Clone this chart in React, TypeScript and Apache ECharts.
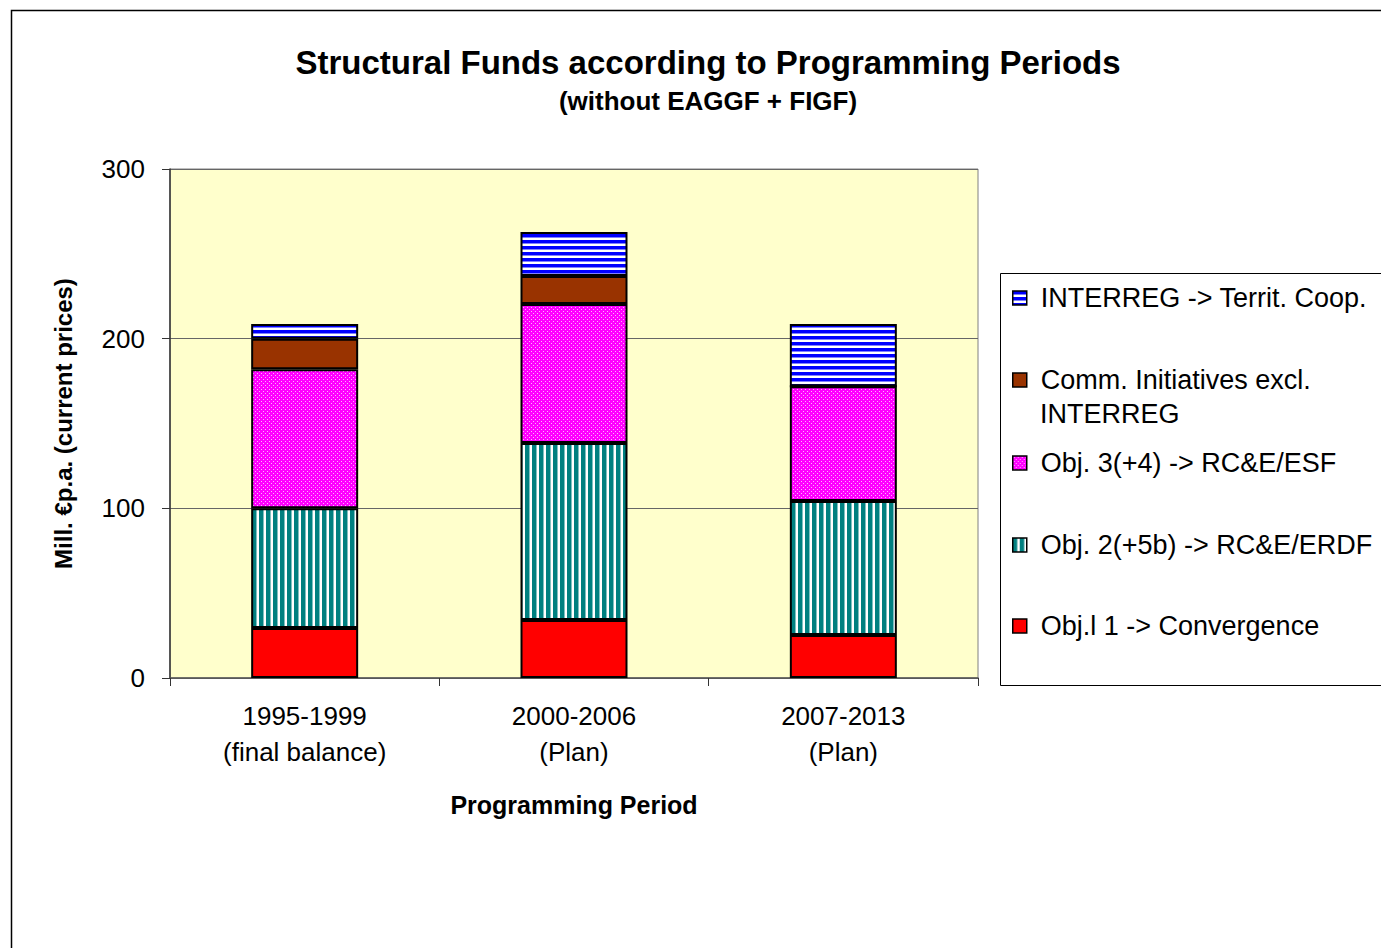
import React, { useEffect, useRef } from 'react';
import * as echarts from 'echarts';

const categories = ['1995-1999\n(final balance)', '2000-2006\n(Plan)', '2007-2013\n(Plan)'];
const seriesNames = [
  'Obj.l 1 -> Convergence',
  'Obj. 2(+5b) -> RC&E/ERDF',
  'Obj. 3(+4) -> RC&E/ESF',
  'Comm. Initiatives excl. INTERREG',
  'INTERREG -> Territ. Coop.',
];
const obj1 = [29.5, 34.2, 25.3];
const obj2 = [70.5, 104.3, 79.0];
const obj3 = [82.0, 81.9, 67.7];
const comm = [18.0, 16.5, 0];
const interreg = [8.6, 25.9, 36.6];
const yTicks = [0, 100, 200, 300];

const FONT = '"Liberation Sans", Arial, sans-serif';

function makePattern(w: number, h: number, draw: (ctx: CanvasRenderingContext2D) => void) {
  const c = document.createElement('canvas');
  c.width = w;
  c.height = h;
  const ctx = c.getContext('2d')!;
  draw(ctx);
  return { image: c, repeat: 'repeat' } as any;
}

export default function App() {
  const ref = useRef<HTMLDivElement>(null);
  useEffect(() => {
    if (!ref.current) return;
    const chart = echarts.init(ref.current, null, { renderer: 'svg' });

    const bluePat = makePattern(8, 6, (ctx) => {
      ctx.fillStyle = '#0000FF';
      ctx.fillRect(0, 0, 8, 6);
      ctx.fillStyle = '#8080FF';
      ctx.fillRect(0, 3, 8, 1);
      ctx.fillStyle = '#FFFFFF';
      ctx.fillRect(0, 4, 8, 2);
    });
    const tealPat = makePattern(7, 8, (ctx) => {
      ctx.fillStyle = '#008080';
      ctx.fillRect(0, 0, 7, 8);
      ctx.fillStyle = '#80C0C0';
      ctx.fillRect(4, 0, 1, 8);
      ctx.fillStyle = '#FFFFFF';
      ctx.fillRect(5, 0, 2, 8);
    });
    const magPat = makePattern(4, 4, (ctx) => {
      ctx.fillStyle = '#FF00FF';
      ctx.fillRect(0, 0, 4, 4);
      ctx.fillStyle = '#FFB0FF';
      ctx.fillRect(1, 1, 1, 1);
      ctx.fillRect(3, 3, 1, 1);
    });

    const fills = ['#FF0000', tealPat, magPat, '#993300', bluePat];
    const values = [obj1, obj2, obj3, comm, interreg];

    const legendCenters = [626, 545, 463, 380, 298];

    const series = seriesNames.map((name, i) => ({
      name,
      type: 'bar',
      stack: 'total',
      barWidth: 107,
      data: values[i],
      itemStyle: { color: fills[i], borderColor: '#000', borderWidth: 2 },
      emphasis: { disabled: true },
    }));

    const legends = seriesNames.map((name, i) => ({
      data: [name],
      left: 1012,
      top: legendCenters[i] - 14,
      orient: 'vertical',
      icon: 'rect',
      itemWidth: 14,
      itemHeight: 14,
      padding: 0,
      selectedMode: false,
      itemStyle: { borderColor: '#000', borderWidth: 1.5 },
      formatter: (n: string) => (n === 'Comm. Initiatives excl. INTERREG' ? 'Comm. Initiatives excl.' : n),
      textStyle: { fontSize: 27, fontFamily: FONT, color: '#000', lineHeight: 28, padding: [0, 0, 0, 9] },
    }));

    chart.setOption({
      animation: false,
      title: [
        {
          text: 'Structural Funds according to Programming Periods',
          left: 708,
          top: 44,
          textAlign: 'center',
          padding: 0,
          textStyle: { fontSize: 33, fontWeight: 'bold', fontFamily: FONT, color: '#000', lineHeight: 36 },
        },
        {
          text: '(without EAGGF + FIGF)',
          left: 708,
          top: 87,
          textAlign: 'center',
          padding: 0,
          textStyle: { fontSize: 26, fontWeight: 'bold', fontFamily: FONT, color: '#000', lineHeight: 28 },
        },
      ],
      legend: legends,
      grid: {
        left: 170,
        top: 169,
        width: 808,
        height: 509,
        show: true,
        backgroundColor: '#FFFFCC',
        borderColor: '#808080',
        borderWidth: 1,
        containLabel: false,
      },
      xAxis: {
        type: 'category',
        data: categories,
        name: 'Programming Period',
        nameLocation: 'middle',
        nameGap: 114,
        nameTextStyle: { fontSize: 25, fontWeight: 'bold', fontFamily: FONT, color: '#000', lineHeight: 26 },
        axisLine: { lineStyle: { color: '#555', width: 1.5 } },
        axisTick: { show: true, length: 8, lineStyle: { color: '#333' } },
        axisLabel: { fontSize: 26, fontFamily: FONT, color: '#000', lineHeight: 36, margin: 20 },
      },
      yAxis: {
        type: 'value',
        min: yTicks[0],
        max: yTicks[yTicks.length - 1],
        interval: 100,
        name: 'Mill. €p.a. (current prices)',
        nameLocation: 'middle',
        nameGap: 95,
        nameTextStyle: { fontSize: 24, fontWeight: 'bold', fontFamily: FONT, color: '#000', lineHeight: 24 },
        axisLine: { show: true, lineStyle: { color: '#333', width: 1.5 } },
        axisTick: { show: true, length: 8, lineStyle: { color: '#333' } },
        splitLine: { show: true, lineStyle: { color: '#666', width: 1 } },
        axisLabel: { fontSize: 26, fontFamily: FONT, color: '#000', margin: 25 },
      },
      graphic: [
        {
          type: 'rect',
          shape: { x: 11.5, y: 10.5, width: 1500, height: 1000 },
          style: { fill: 'none', stroke: '#000', lineWidth: 1.5 },
          silent: true,
        },
        {
          type: 'rect',
          shape: { x: 1000.5, y: 273.5, width: 500, height: 412 },
          style: { fill: 'none', stroke: '#000', lineWidth: 1 },
          silent: true,
        },
        {
          type: 'text',
          left: 1040,
          top: 400,
          style: { text: 'INTERREG', fontSize: 27, fontFamily: FONT, fill: '#000', lineHeight: 28 },
        },
      ],
      series,
    });
    return () => chart.dispose();
  }, []);
  return <div ref={ref} style={{ position: 'absolute', left: 0, top: 0, width: 1381, height: 948, background: '#fff' }} />;
}
